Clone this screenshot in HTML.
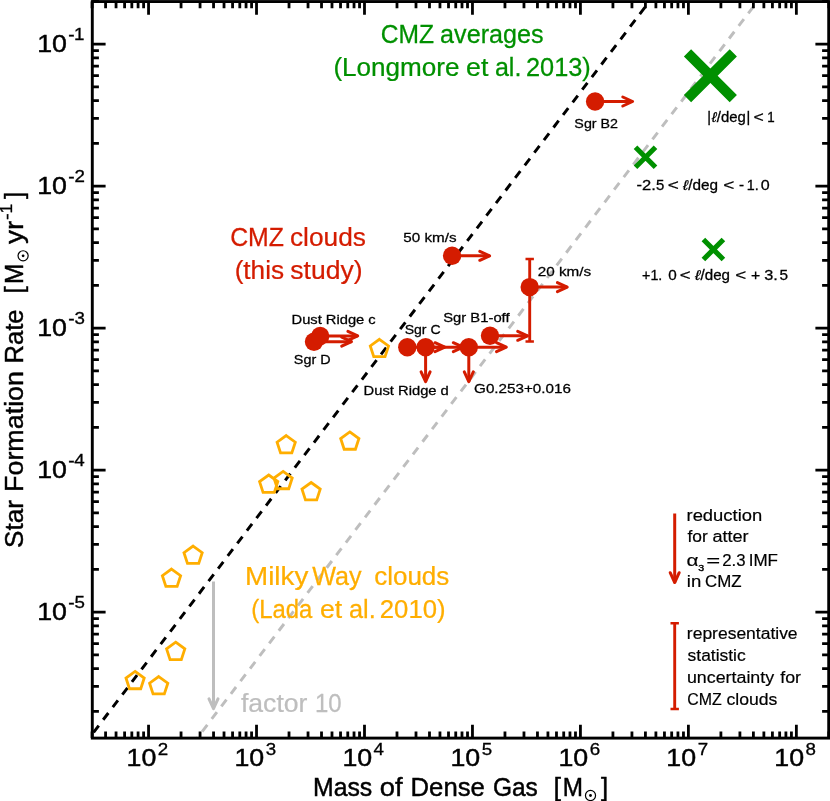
<!DOCTYPE html>
<html><head><meta charset="utf-8"><title>SFR vs dense gas</title>
<style>html,body{margin:0;padding:0;background:#fff}svg{display:block;will-change:transform}text{font-family:"Liberation Sans",sans-serif;white-space:pre}</style></head><body>
<svg width="830" height="801" viewBox="0 0 830 801">
<rect x="0" y="0" width="830" height="801" fill="#fff"/>
<defs><clipPath id="c"><rect x="92.3" y="1.55" width="736.4000000000001" height="736.5500000000001"/></clipPath></defs>
<g clip-path="url(#c)" fill="none" stroke-width="2.95">
<line x1="92.09" y1="734.34" x2="847.88" y2="-259.66" stroke="#000" stroke-dasharray="8.5 7.33" stroke-dashoffset="-2.5"/>
<line x1="92.09" y1="876.34" x2="847.88" y2="-117.66" stroke="#BEBEBE" stroke-dasharray="8.5 7.33" stroke-dashoffset="8.1"/>
</g>
<path d="M213.50,581.50L213.50,708.70" fill="none" stroke="#BEBEBE" stroke-width="3.0"/>
<path d="M209.00,698.90L213.50,708.70L218.00,698.90" fill="none" stroke="#BEBEBE" stroke-width="3.0" stroke-linecap="round" stroke-linejoin="round"/>
<polygon points="135.10,671.40 144.23,678.03 140.74,688.77 129.46,688.77 125.97,678.03" fill="none" stroke="#FFAE00" stroke-width="2.8" stroke-linejoin="miter"/>
<polygon points="158.70,676.60 167.83,683.23 164.34,693.97 153.06,693.97 149.57,683.23" fill="none" stroke="#FFAE00" stroke-width="2.8" stroke-linejoin="miter"/>
<polygon points="175.70,642.20 184.83,648.83 181.34,659.57 170.06,659.57 166.57,648.83" fill="none" stroke="#FFAE00" stroke-width="2.8" stroke-linejoin="miter"/>
<polygon points="171.50,569.10 180.63,575.73 177.14,586.47 165.86,586.47 162.37,575.73" fill="none" stroke="#FFAE00" stroke-width="2.8" stroke-linejoin="miter"/>
<polygon points="193.10,546.10 202.23,552.73 198.74,563.47 187.46,563.47 183.97,552.73" fill="none" stroke="#FFAE00" stroke-width="2.8" stroke-linejoin="miter"/>
<polygon points="268.70,475.00 277.83,481.63 274.34,492.37 263.06,492.37 259.57,481.63" fill="none" stroke="#FFAE00" stroke-width="2.8" stroke-linejoin="miter"/>
<polygon points="283.10,471.40 292.23,478.03 288.74,488.77 277.46,488.77 273.97,478.03" fill="none" stroke="#FFAE00" stroke-width="2.8" stroke-linejoin="miter"/>
<polygon points="311.10,482.50 320.23,489.13 316.74,499.87 305.46,499.87 301.97,489.13" fill="none" stroke="#FFAE00" stroke-width="2.8" stroke-linejoin="miter"/>
<polygon points="286.20,435.60 295.33,442.23 291.84,452.97 280.56,452.97 277.07,442.23" fill="none" stroke="#FFAE00" stroke-width="2.8" stroke-linejoin="miter"/>
<polygon points="349.80,431.90 358.93,438.53 355.44,449.27 344.16,449.27 340.67,438.53" fill="none" stroke="#FFAE00" stroke-width="2.8" stroke-linejoin="miter"/>
<polygon points="379.40,339.30 388.53,345.93 385.04,356.67 373.76,356.67 370.27,345.93" fill="none" stroke="#FFAE00" stroke-width="2.8" stroke-linejoin="miter"/>
<path d="M529.7,259.0L529.7,341.4" fill="none" stroke="#D41C00" stroke-width="2.9"/><path d="M525.5,259.0L533.9000000000001,259.0M525.5,341.4L533.9000000000001,341.4" fill="none" stroke="#D41C00" stroke-width="2.5"/>
<path d="M314.00,341.70L351.50,341.70" fill="none" stroke="#D41C00" stroke-width="3.0"/>
<path d="M341.70,346.20L351.50,341.70L341.70,337.20" fill="none" stroke="#D41C00" stroke-width="3.0" stroke-linecap="round" stroke-linejoin="round"/>
<path d="M320.20,335.90L357.70,335.90" fill="none" stroke="#D41C00" stroke-width="3.0"/>
<path d="M347.90,340.40L357.70,335.90L347.90,331.40" fill="none" stroke="#D41C00" stroke-width="3.0" stroke-linecap="round" stroke-linejoin="round"/>
<path d="M452.10,255.80L489.60,255.80" fill="none" stroke="#D41C00" stroke-width="3.0"/>
<path d="M479.80,260.30L489.60,255.80L479.80,251.30" fill="none" stroke="#D41C00" stroke-width="3.0" stroke-linecap="round" stroke-linejoin="round"/>
<path d="M529.70,287.10L567.20,287.10" fill="none" stroke="#D41C00" stroke-width="3.0"/>
<path d="M557.40,291.60L567.20,287.10L557.40,282.60" fill="none" stroke="#D41C00" stroke-width="3.0" stroke-linecap="round" stroke-linejoin="round"/>
<path d="M407.30,347.20L444.80,347.20" fill="none" stroke="#D41C00" stroke-width="3.0"/>
<path d="M435.00,351.70L444.80,347.20L435.00,342.70" fill="none" stroke="#D41C00" stroke-width="3.0" stroke-linecap="round" stroke-linejoin="round"/>
<path d="M425.60,347.20L463.10,347.20" fill="none" stroke="#D41C00" stroke-width="3.0"/>
<path d="M453.30,351.70L463.10,347.20L453.30,342.70" fill="none" stroke="#D41C00" stroke-width="3.0" stroke-linecap="round" stroke-linejoin="round"/>
<path d="M468.80,347.20L506.30,347.20" fill="none" stroke="#D41C00" stroke-width="3.0"/>
<path d="M496.50,351.70L506.30,347.20L496.50,342.70" fill="none" stroke="#D41C00" stroke-width="3.0" stroke-linecap="round" stroke-linejoin="round"/>
<path d="M490.00,335.80L527.50,335.80" fill="none" stroke="#D41C00" stroke-width="3.0"/>
<path d="M517.70,340.30L527.50,335.80L517.70,331.30" fill="none" stroke="#D41C00" stroke-width="3.0" stroke-linecap="round" stroke-linejoin="round"/>
<path d="M595.10,101.50L632.60,101.50" fill="none" stroke="#D41C00" stroke-width="3.0"/>
<path d="M622.80,106.00L632.60,101.50L622.80,97.00" fill="none" stroke="#D41C00" stroke-width="3.0" stroke-linecap="round" stroke-linejoin="round"/>
<path d="M425.60,347.20L425.60,381.70" fill="none" stroke="#D41C00" stroke-width="3.0"/>
<path d="M421.10,371.90L425.60,381.70L430.10,371.90" fill="none" stroke="#D41C00" stroke-width="3.0" stroke-linecap="round" stroke-linejoin="round"/>
<path d="M468.80,347.20L468.80,381.70" fill="none" stroke="#D41C00" stroke-width="3.0"/>
<path d="M464.30,371.90L468.80,381.70L473.30,371.90" fill="none" stroke="#D41C00" stroke-width="3.0" stroke-linecap="round" stroke-linejoin="round"/>
<circle cx="314.0" cy="341.7" r="9.2" fill="#D41C00"/>
<circle cx="320.2" cy="335.9" r="9.2" fill="#D41C00"/>
<circle cx="452.1" cy="255.8" r="9.2" fill="#D41C00"/>
<circle cx="529.7" cy="287.1" r="9.2" fill="#D41C00"/>
<circle cx="407.3" cy="347.2" r="9.2" fill="#D41C00"/>
<circle cx="425.6" cy="347.2" r="9.2" fill="#D41C00"/>
<circle cx="468.8" cy="347.2" r="9.2" fill="#D41C00"/>
<circle cx="490.0" cy="335.8" r="9.2" fill="#D41C00"/>
<circle cx="595.1" cy="101.5" r="9.2" fill="#D41C00"/>
<path d="M687.5,52.800000000000004L733.3,98.6M687.5,98.6L733.3,52.800000000000004" stroke="#009000" stroke-width="10.2" fill="none"/>
<path d="M635.5,147.3L655.5,167.3M635.5,167.3L655.5,147.3" stroke="#009000" stroke-width="5.1" fill="none"/>
<path d="M703.4,239.5L723.4,259.5M703.4,259.5L723.4,239.5" stroke="#009000" stroke-width="5.1" fill="none"/>
<path d="M674.70,513.50L674.70,582.50" fill="none" stroke="#D41C00" stroke-width="3.0"/>
<path d="M670.20,572.70L674.70,582.50L679.20,572.70" fill="none" stroke="#D41C00" stroke-width="3.0" stroke-linecap="round" stroke-linejoin="round"/>
<path d="M674.7,623.3L674.7,708.9" fill="none" stroke="#D41C00" stroke-width="2.9"/><path d="M670.5,623.3L678.9000000000001,623.3M670.5,708.9L678.9000000000001,708.9" fill="none" stroke="#D41C00" stroke-width="2.5"/>
<g stroke="#000" stroke-width="2.8" fill="none">
<path d="M92.09,738.1v-6.6M92.09,1.55v6.6M105.58,738.1v-6.6M105.58,1.55v6.6M116.05,738.1v-6.6M116.05,1.55v6.6M124.60,738.1v-6.6M124.60,1.55v6.6M131.83,738.1v-6.6M131.83,1.55v6.6M138.09,738.1v-6.6M138.09,1.55v6.6M143.61,738.1v-6.6M143.61,1.55v6.6M148.55,738.1v-13.3M148.55,1.55v13.3M181.05,738.1v-6.6M181.05,1.55v6.6M200.06,738.1v-6.6M200.06,1.55v6.6M213.55,738.1v-6.6M213.55,1.55v6.6M224.02,738.1v-6.6M224.02,1.55v6.6M232.57,738.1v-6.6M232.57,1.55v6.6M239.80,738.1v-6.6M239.80,1.55v6.6M246.06,738.1v-6.6M246.06,1.55v6.6M251.58,738.1v-6.6M251.58,1.55v6.6M256.52,738.1v-13.3M256.52,1.55v13.3M289.02,738.1v-6.6M289.02,1.55v6.6M308.03,738.1v-6.6M308.03,1.55v6.6M321.52,738.1v-6.6M321.52,1.55v6.6M331.99,738.1v-6.6M331.99,1.55v6.6M340.54,738.1v-6.6M340.54,1.55v6.6M347.77,738.1v-6.6M347.77,1.55v6.6M354.03,738.1v-6.6M354.03,1.55v6.6M359.55,738.1v-6.6M359.55,1.55v6.6M364.49,738.1v-13.3M364.49,1.55v13.3M396.99,738.1v-6.6M396.99,1.55v6.6M416.00,738.1v-6.6M416.00,1.55v6.6M429.49,738.1v-6.6M429.49,1.55v6.6M439.96,738.1v-6.6M439.96,1.55v6.6M448.51,738.1v-6.6M448.51,1.55v6.6M455.74,738.1v-6.6M455.74,1.55v6.6M462.00,738.1v-6.6M462.00,1.55v6.6M467.52,738.1v-6.6M467.52,1.55v6.6M472.46,738.1v-13.3M472.46,1.55v13.3M504.96,738.1v-6.6M504.96,1.55v6.6M523.97,738.1v-6.6M523.97,1.55v6.6M537.46,738.1v-6.6M537.46,1.55v6.6M547.93,738.1v-6.6M547.93,1.55v6.6M556.48,738.1v-6.6M556.48,1.55v6.6M563.71,738.1v-6.6M563.71,1.55v6.6M569.97,738.1v-6.6M569.97,1.55v6.6M575.49,738.1v-6.6M575.49,1.55v6.6M580.43,738.1v-13.3M580.43,1.55v13.3M612.93,738.1v-6.6M612.93,1.55v6.6M631.94,738.1v-6.6M631.94,1.55v6.6M645.43,738.1v-6.6M645.43,1.55v6.6M655.90,738.1v-6.6M655.90,1.55v6.6M664.45,738.1v-6.6M664.45,1.55v6.6M671.68,738.1v-6.6M671.68,1.55v6.6M677.94,738.1v-6.6M677.94,1.55v6.6M683.46,738.1v-6.6M683.46,1.55v6.6M688.40,738.1v-13.3M688.40,1.55v13.3M720.90,738.1v-6.6M720.90,1.55v6.6M739.91,738.1v-6.6M739.91,1.55v6.6M753.40,738.1v-6.6M753.40,1.55v6.6M763.87,738.1v-6.6M763.87,1.55v6.6M772.42,738.1v-6.6M772.42,1.55v6.6M779.65,738.1v-6.6M779.65,1.55v6.6M785.91,738.1v-6.6M785.91,1.55v6.6M791.43,738.1v-6.6M791.43,1.55v6.6M796.37,738.1v-13.3M796.37,1.55v13.3M828.87,738.1v-6.6M828.87,1.55v6.6M92.3,711.45h6.6M828.7,711.45h-6.6M92.3,686.45h6.6M828.7,686.45h-6.6M92.3,668.71h6.6M828.7,668.71h-6.6M92.3,654.95h6.6M828.7,654.95h-6.6M92.3,643.70h6.6M828.7,643.70h-6.6M92.3,634.20h6.6M828.7,634.20h-6.6M92.3,625.96h6.6M828.7,625.96h-6.6M92.3,618.70h6.6M828.7,618.70h-6.6M92.3,612.20h13.3M828.7,612.20h-13.3M92.3,569.45h6.6M828.7,569.45h-6.6M92.3,544.45h6.6M828.7,544.45h-6.6M92.3,526.71h6.6M828.7,526.71h-6.6M92.3,512.95h6.6M828.7,512.95h-6.6M92.3,501.70h6.6M828.7,501.70h-6.6M92.3,492.20h6.6M828.7,492.20h-6.6M92.3,483.96h6.6M828.7,483.96h-6.6M92.3,476.70h6.6M828.7,476.70h-6.6M92.3,470.20h13.3M828.7,470.20h-13.3M92.3,427.45h6.6M828.7,427.45h-6.6M92.3,402.45h6.6M828.7,402.45h-6.6M92.3,384.71h6.6M828.7,384.71h-6.6M92.3,370.95h6.6M828.7,370.95h-6.6M92.3,359.70h6.6M828.7,359.70h-6.6M92.3,350.20h6.6M828.7,350.20h-6.6M92.3,341.96h6.6M828.7,341.96h-6.6M92.3,334.70h6.6M828.7,334.70h-6.6M92.3,328.20h13.3M828.7,328.20h-13.3M92.3,285.45h6.6M828.7,285.45h-6.6M92.3,260.45h6.6M828.7,260.45h-6.6M92.3,242.71h6.6M828.7,242.71h-6.6M92.3,228.95h6.6M828.7,228.95h-6.6M92.3,217.70h6.6M828.7,217.70h-6.6M92.3,208.20h6.6M828.7,208.20h-6.6M92.3,199.96h6.6M828.7,199.96h-6.6M92.3,192.70h6.6M828.7,192.70h-6.6M92.3,186.20h13.3M828.7,186.20h-13.3M92.3,143.45h6.6M828.7,143.45h-6.6M92.3,118.45h6.6M828.7,118.45h-6.6M92.3,100.71h6.6M828.7,100.71h-6.6M92.3,86.95h6.6M828.7,86.95h-6.6M92.3,75.70h6.6M828.7,75.70h-6.6M92.3,66.20h6.6M828.7,66.20h-6.6M92.3,57.96h6.6M828.7,57.96h-6.6M92.3,50.70h6.6M828.7,50.70h-6.6M92.3,44.20h13.3M828.7,44.20h-13.3M92.3,1.45h6.6M828.7,1.45h-6.6"/>
</g>
<rect x="92.3" y="1.55" width="736.4000000000001" height="736.5500000000001" fill="none" stroke="#000" stroke-width="2.9"/>
<text transform="translate(128.50,765.80) scale(1.0971,1)" x="-1.83" y="0" font-size="24.4" fill="#000" stroke="#000" stroke-width="0.456">10</text>
<text transform="translate(158.77,754.60) scale(1.1300,1)" x="-0.83" y="0" font-size="16.6" fill="#000" stroke="#000" stroke-width="0.310">2</text>
<text transform="translate(236.47,765.80) scale(1.0971,1)" x="-1.83" y="0" font-size="24.4" fill="#000" stroke="#000" stroke-width="0.456">10</text>
<text transform="translate(266.37,754.60) scale(1.1300,1)" x="-0.58" y="0" font-size="16.6" fill="#000" stroke="#000" stroke-width="0.310">3</text>
<text transform="translate(344.44,765.80) scale(1.0971,1)" x="-1.83" y="0" font-size="24.4" fill="#000" stroke="#000" stroke-width="0.456">10</text>
<text transform="translate(373.77,754.60) scale(1.1300,1)" x="-0.33" y="0" font-size="16.6" fill="#000" stroke="#000" stroke-width="0.310">4</text>
<text transform="translate(452.41,765.80) scale(1.0971,1)" x="-1.83" y="0" font-size="24.4" fill="#000" stroke="#000" stroke-width="0.456">10</text>
<text transform="translate(482.40,754.60) scale(1.1300,1)" x="-0.66" y="0" font-size="16.6" fill="#000" stroke="#000" stroke-width="0.310">5</text>
<text transform="translate(560.38,765.80) scale(1.0971,1)" x="-1.83" y="0" font-size="24.4" fill="#000" stroke="#000" stroke-width="0.456">10</text>
<text transform="translate(590.56,754.60) scale(1.1300,1)" x="-0.83" y="0" font-size="16.6" fill="#000" stroke="#000" stroke-width="0.310">6</text>
<text transform="translate(668.35,765.80) scale(1.0971,1)" x="-1.83" y="0" font-size="24.4" fill="#000" stroke="#000" stroke-width="0.456">10</text>
<text transform="translate(698.62,754.60) scale(1.1300,1)" x="-0.83" y="0" font-size="16.6" fill="#000" stroke="#000" stroke-width="0.310">7</text>
<text transform="translate(776.32,765.80) scale(1.0971,1)" x="-1.83" y="0" font-size="24.4" fill="#000" stroke="#000" stroke-width="0.456">10</text>
<text transform="translate(806.31,754.60) scale(1.1300,1)" x="-0.66" y="0" font-size="16.6" fill="#000" stroke="#000" stroke-width="0.310">8</text>
<text transform="translate(39.20,619.50) scale(1.0971,1)" x="-1.83" y="0" font-size="24.4" fill="#000" stroke="#000" stroke-width="0.456">10</text>
<text transform="translate(68.90,607.90) scale(1.1566,1)" x="-0.66" y="0" font-size="16.6" fill="#000" stroke="#000" stroke-width="0.303">-</text>
<text transform="translate(75.19,607.90) scale(1.1300,1)" x="-0.66" y="0" font-size="16.6" fill="#000" stroke="#000" stroke-width="0.310">5</text>
<text transform="translate(39.20,477.50) scale(1.0971,1)" x="-1.83" y="0" font-size="24.4" fill="#000" stroke="#000" stroke-width="0.456">10</text>
<text transform="translate(68.90,465.90) scale(1.1566,1)" x="-0.66" y="0" font-size="16.6" fill="#000" stroke="#000" stroke-width="0.303">-</text>
<text transform="translate(74.53,465.90) scale(1.1300,1)" x="-0.33" y="0" font-size="16.6" fill="#000" stroke="#000" stroke-width="0.310">4</text>
<text transform="translate(39.20,335.50) scale(1.0971,1)" x="-1.83" y="0" font-size="24.4" fill="#000" stroke="#000" stroke-width="0.456">10</text>
<text transform="translate(68.90,323.90) scale(1.1566,1)" x="-0.66" y="0" font-size="16.6" fill="#000" stroke="#000" stroke-width="0.303">-</text>
<text transform="translate(75.10,323.90) scale(1.1300,1)" x="-0.58" y="0" font-size="16.6" fill="#000" stroke="#000" stroke-width="0.310">3</text>
<text transform="translate(39.20,193.50) scale(1.0971,1)" x="-1.83" y="0" font-size="24.4" fill="#000" stroke="#000" stroke-width="0.456">10</text>
<text transform="translate(68.90,181.90) scale(1.1566,1)" x="-0.66" y="0" font-size="16.6" fill="#000" stroke="#000" stroke-width="0.303">-</text>
<text transform="translate(75.47,181.90) scale(1.1300,1)" x="-0.83" y="0" font-size="16.6" fill="#000" stroke="#000" stroke-width="0.310">2</text>
<text transform="translate(39.20,51.50) scale(1.0971,1)" x="-1.83" y="0" font-size="24.4" fill="#000" stroke="#000" stroke-width="0.456">10</text>
<text transform="translate(68.90,39.90) scale(1.1566,1)" x="-0.66" y="0" font-size="16.6" fill="#000" stroke="#000" stroke-width="0.303">-</text>
<text transform="translate(75.44,39.90) scale(1.1300,1)" x="-1.25" y="0" font-size="16.6" fill="#000" stroke="#000" stroke-width="0.310">1</text>
<text transform="translate(292.70,323.60) scale(1.0982,1)" x="-1.07" y="0" font-size="13.4" fill="#000" stroke="#000" stroke-width="0.273">Dust Ridge c</text>
<text transform="translate(294.50,363.60) scale(1.0722,1)" x="-0.60" y="0" font-size="13.4" fill="#000" stroke="#000" stroke-width="0.280">Sgr D</text>
<text transform="translate(403.90,241.70) scale(1.1371,1)" x="-0.54" y="0" font-size="13.4" fill="#000" stroke="#000" stroke-width="0.264">50 km/s</text>
<text transform="translate(538.50,276.20) scale(1.1404,1)" x="-0.67" y="0" font-size="13.4" fill="#000" stroke="#000" stroke-width="0.263">20 km/s</text>
<text transform="translate(443.90,322.40) scale(1.1040,1)" x="-0.60" y="0" font-size="13.4" fill="#000" stroke="#000" stroke-width="0.272">Sgr B1-off</text>
<text transform="translate(405.30,333.60) scale(1.0497,1)" x="-0.60" y="0" font-size="13.4" fill="#000" stroke="#000" stroke-width="0.286">Sgr C</text>
<text transform="translate(364.80,395.20) scale(1.1010,1)" x="-1.07" y="0" font-size="13.4" fill="#000" stroke="#000" stroke-width="0.272">Dust Ridge d</text>
<text transform="translate(474.80,392.70) scale(1.1357,1)" x="-0.67" y="0" font-size="13.4" fill="#000" stroke="#000" stroke-width="0.264">G0.253+0.016</text>
<text transform="translate(575.00,128.10) scale(1.0668,1)" x="-0.60" y="0" font-size="13.4" fill="#000" stroke="#000" stroke-width="0.281">Sgr B2</text>
<text transform="translate(708.50,122.30) scale(1.0317,1)" x="-1.19" y="0" font-size="14.0" fill="#000" stroke="#000" stroke-width="0.291">|</text>
<text transform="translate(711.70,122.30) scale(1.0599,1)" x="-0.07" y="0" font-size="14.0" fill="#000" stroke="#000" stroke-width="0.283" font-style="italic">ℓ</text>
<text transform="translate(716.80,122.30) scale(1.0685,1)" x="0.00" y="0" font-size="14.0" fill="#000" stroke="#000" stroke-width="0.281">/deg</text>
<text transform="translate(747.70,122.30) scale(1.0317,1)" x="-1.19" y="0" font-size="14.0" fill="#000" stroke="#000" stroke-width="0.291">|</text>
<text transform="translate(754.20,122.30) scale(1.2554,1)" x="-0.63" y="0" font-size="14.0" fill="#000" stroke="#000" stroke-width="0.239">&lt;</text>
<text transform="translate(768.30,122.30) scale(0.9524,1)" x="-1.05" y="0" font-size="14.0" fill="#000" stroke="#000" stroke-width="0.315">1</text>
<text transform="translate(637.20,189.60) scale(1.1823,1)" x="-0.56" y="0" font-size="14.0" fill="#000" stroke="#000" stroke-width="0.254">-2.</text>
<text transform="translate(656.70,189.60) scale(1.0677,1)" x="-0.56" y="0" font-size="14.0" fill="#000" stroke="#000" stroke-width="0.281">5</text>
<text transform="translate(668.50,189.60) scale(1.3564,1)" x="-0.63" y="0" font-size="14.0" fill="#000" stroke="#000" stroke-width="0.221">&lt;</text>
<text transform="translate(683.00,189.60) scale(1.1060,1)" x="-0.07" y="0" font-size="14.0" fill="#000" stroke="#000" stroke-width="0.271" font-style="italic">ℓ</text>
<text transform="translate(688.20,189.60) scale(1.0950,1)" x="0.00" y="0" font-size="14.0" fill="#000" stroke="#000" stroke-width="0.274">/deg</text>
<text transform="translate(724.00,189.60) scale(1.3564,1)" x="-0.63" y="0" font-size="14.0" fill="#000" stroke="#000" stroke-width="0.221">&lt;</text>
<text transform="translate(739.70,189.60) scale(1.0857,1)" x="-0.56" y="0" font-size="14.0" fill="#000" stroke="#000" stroke-width="0.276">-</text>
<text transform="translate(747.80,189.60) scale(1.0217,1)" x="-1.05" y="0" font-size="14.0" fill="#000" stroke="#000" stroke-width="0.294">1.</text>
<text transform="translate(761.40,189.60) scale(1.1487,1)" x="-0.49" y="0" font-size="14.0" fill="#000" stroke="#000" stroke-width="0.261">0</text>
<text transform="translate(642.70,279.70) scale(1.0171,1)" x="-0.63" y="0" font-size="14.0" fill="#000" stroke="#000" stroke-width="0.295">+1.</text>
<text transform="translate(668.70,279.70) scale(1.0898,1)" x="-0.49" y="0" font-size="14.0" fill="#000" stroke="#000" stroke-width="0.275">0</text>
<text transform="translate(680.70,279.70) scale(1.3276,1)" x="-0.63" y="0" font-size="14.0" fill="#000" stroke="#000" stroke-width="0.226">&lt;</text>
<text transform="translate(695.10,279.70) scale(1.1751,1)" x="-0.07" y="0" font-size="14.0" fill="#000" stroke="#000" stroke-width="0.255" font-style="italic">ℓ</text>
<text transform="translate(700.50,279.70) scale(1.0837,1)" x="0.00" y="0" font-size="14.0" fill="#000" stroke="#000" stroke-width="0.277">/deg</text>
<text transform="translate(736.20,279.70) scale(1.3420,1)" x="-0.63" y="0" font-size="14.0" fill="#000" stroke="#000" stroke-width="0.224">&lt;</text>
<text transform="translate(751.60,279.70) scale(1.1224,1)" x="-0.63" y="0" font-size="14.0" fill="#000" stroke="#000" stroke-width="0.267">+</text>
<text transform="translate(764.70,279.70) scale(1.1651,1)" x="-0.49" y="0" font-size="14.0" fill="#000" stroke="#000" stroke-width="0.257">3.</text>
<text transform="translate(780.00,279.70) scale(1.0977,1)" x="-0.56" y="0" font-size="14.0" fill="#000" stroke="#000" stroke-width="0.273">5</text>
<text transform="translate(381.90,42.80) scale(0.9629,1)" x="-1.28" y="0" font-size="25.6" fill="#009000" stroke="#009000" stroke-width="0.260">CMZ</text>
<text transform="translate(441.10,42.80) scale(0.9827,1)" x="-1.02" y="0" font-size="25.6" fill="#009000" stroke="#009000" stroke-width="0.254">averages</text>
<text transform="translate(335.00,75.70) scale(1.0189,1)" x="-1.54" y="0" font-size="25.6" fill="#009000" stroke="#009000" stroke-width="0.245">(Longmore</text>
<text transform="translate(467.10,75.70) scale(1.0467,1)" x="-1.02" y="0" font-size="25.6" fill="#009000" stroke="#009000" stroke-width="0.239">et</text>
<text transform="translate(495.90,75.70) scale(0.9804,1)" x="-1.02" y="0" font-size="25.6" fill="#009000" stroke="#009000" stroke-width="0.255">al.</text>
<text transform="translate(527.20,75.70) scale(0.9903,1)" x="-1.28" y="0" font-size="25.6" fill="#009000" stroke="#009000" stroke-width="0.252">2013)</text>
<text transform="translate(231.40,245.70) scale(0.9704,1)" x="-1.28" y="0" font-size="25.6" fill="#D41C00" stroke="#D41C00" stroke-width="0.258">CMZ</text>
<text transform="translate(291.00,245.70) scale(1.0266,1)" x="-1.02" y="0" font-size="25.6" fill="#D41C00" stroke="#D41C00" stroke-width="0.244">clouds</text>
<text transform="translate(236.20,278.70) scale(1.0233,1)" x="-1.54" y="0" font-size="25.6" fill="#D41C00" stroke="#D41C00" stroke-width="0.244">(this</text>
<text transform="translate(291.00,278.70) scale(1.0357,1)" x="-0.64" y="0" font-size="25.6" fill="#D41C00" stroke="#D41C00" stroke-width="0.241">study)</text>
<text transform="translate(247.30,584.60) scale(1.0844,1)" x="-2.05" y="0" font-size="25.6" fill="#FFAE00" stroke="#FFAE00" stroke-width="0.231">Milky</text>
<text transform="translate(312.20,584.60) scale(0.9831,1)" x="0.00" y="0" font-size="25.6" fill="#FFAE00" stroke="#FFAE00" stroke-width="0.254">Way</text>
<text transform="translate(375.20,584.60) scale(1.0155,1)" x="-1.02" y="0" font-size="25.6" fill="#FFAE00" stroke="#FFAE00" stroke-width="0.246">clouds</text>
<text transform="translate(252.80,617.90) scale(0.9323,1)" x="-1.54" y="0" font-size="25.6" fill="#FFAE00" stroke="#FFAE00" stroke-width="0.268">(Lada</text>
<text transform="translate(321.00,617.90) scale(1.0418,1)" x="-1.02" y="0" font-size="25.6" fill="#FFAE00" stroke="#FFAE00" stroke-width="0.240">et</text>
<text transform="translate(350.00,617.90) scale(0.9888,1)" x="-1.02" y="0" font-size="25.6" fill="#FFAE00" stroke="#FFAE00" stroke-width="0.253">al.</text>
<text transform="translate(381.10,617.90) scale(1.0046,1)" x="-1.28" y="0" font-size="25.6" fill="#FFAE00" stroke="#FFAE00" stroke-width="0.249">2010)</text>
<text transform="translate(241.20,711.70) scale(1.0388,1)" x="-0.26" y="0" font-size="25.6" fill="#BEBEBE" stroke="#BEBEBE" stroke-width="0.241">factor</text>
<text transform="translate(316.80,711.70) scale(0.9364,1)" x="-1.92" y="0" font-size="25.6" fill="#BEBEBE" stroke="#BEBEBE" stroke-width="0.267">10</text>
<text transform="translate(687.70,520.50) scale(1.0640,1)" x="-1.12" y="0" font-size="17.3" fill="#000" stroke="#000" stroke-width="0.188">reduction</text>
<text transform="translate(687.70,542.40) scale(1.0055,1)" x="-0.17" y="0" font-size="17.3" fill="#000" stroke="#000" stroke-width="0.199">for</text>
<text transform="translate(713.10,542.40) scale(1.0475,1)" x="-0.69" y="0" font-size="17.3" fill="#000" stroke="#000" stroke-width="0.191">atter</text>
<text transform="translate(688.00,587.30) scale(1.0725,1)" x="-1.12" y="0" font-size="17.3" fill="#000" stroke="#000" stroke-width="0.186">in</text>
<text transform="translate(705.80,587.30) scale(0.9758,1)" x="-0.87" y="0" font-size="17.3" fill="#000" stroke="#000" stroke-width="0.205">CMZ</text>
<text transform="translate(688.00,639.10) scale(1.0112,1)" x="-1.12" y="0" font-size="17.3" fill="#000" stroke="#000" stroke-width="0.198">representative</text>
<text transform="translate(688.00,661.20) scale(1.0086,1)" x="-0.43" y="0" font-size="17.3" fill="#000" stroke="#000" stroke-width="0.198">statistic</text>
<text transform="translate(688.00,683.40) scale(1.0313,1)" x="-1.04" y="0" font-size="17.3" fill="#000" stroke="#000" stroke-width="0.194">uncertainty</text>
<text transform="translate(780.40,683.40) scale(1.0308,1)" x="-0.17" y="0" font-size="17.3" fill="#000" stroke="#000" stroke-width="0.194">for</text>
<text transform="translate(688.00,705.30) scale(0.9203,1)" x="-0.87" y="0" font-size="17.3" fill="#000" stroke="#000" stroke-width="0.217">CMZ</text>
<text transform="translate(727.20,705.30) scale(1.0183,1)" x="-0.69" y="0" font-size="17.3" fill="#000" stroke="#000" stroke-width="0.196">clouds</text>
<text transform="translate(687.30,565.50) scale(1.2014,1)" x="-0.69" y="0" font-size="17.3" fill="#000" stroke="#000" stroke-width="0.166">α</text>
<text transform="translate(698.70,571.20) scale(1.1425,1)" x="-0.33" y="0" font-size="9.3" fill="#000" stroke="#000" stroke-width="0.394">3</text>
<text transform="translate(707.40,565.50) scale(1.3802,1)" x="-0.78" y="0" font-size="17.3" fill="#000" stroke="#000" stroke-width="0.145">=</text>
<text transform="translate(723.10,565.50) scale(0.9701,1)" x="-0.87" y="0" font-size="17.3" fill="#000" stroke="#000" stroke-width="0.206">2.3</text>
<text transform="translate(750.20,565.50) scale(0.9852,1)" x="-1.56" y="0" font-size="17.3" fill="#000" stroke="#000" stroke-width="0.203">IMF</text>
<text transform="translate(315.00,795.70) scale(0.9920,1)" x="-2.00" y="0" font-size="25.0" fill="#000" stroke="#000" stroke-width="0.454">Mass</text>
<text transform="translate(380.80,795.70) scale(1.0953,1)" x="-1.00" y="0" font-size="25.0" fill="#000" stroke="#000" stroke-width="0.411">of</text>
<text transform="translate(412.60,795.70) scale(1.0284,1)" x="-2.00" y="0" font-size="25.0" fill="#000" stroke="#000" stroke-width="0.438">Dense</text>
<text transform="translate(494.20,795.70) scale(0.9789,1)" x="-1.25" y="0" font-size="25.0" fill="#000" stroke="#000" stroke-width="0.460">Gas</text>
<text transform="translate(555.40,795.70) scale(1.0800,1)" x="-1.75" y="0" font-size="25.0" fill="#000" stroke="#000" stroke-width="0.417">[</text>
<text transform="translate(564.80,795.70) scale(0.9719,1)" x="-2.00" y="0" font-size="25.0" fill="#000" stroke="#000" stroke-width="0.463">M</text>
<circle cx="590.5" cy="795.5" r="5.05" fill="none" stroke="#000" stroke-width="1.2"/><circle cx="590.5" cy="795.5" r="1.4" fill="#000"/>
<text transform="translate(601.00,795.70) scale(1.0341,1)" x="-0.12" y="0" font-size="25.0" fill="#000" stroke="#000" stroke-width="0.435">]</text>
<text transform="translate(23.10,546.80) rotate(-90) scale(1.0428,1)" x="-1.12" y="0" font-size="25.0" fill="#000" stroke="#000" stroke-width="0.432">Star</text>
<text transform="translate(23.10,489.80) rotate(-90) scale(1.0752,1)" x="-2.00" y="0" font-size="25.0" fill="#000" stroke="#000" stroke-width="0.419">Formation</text>
<text transform="translate(23.10,361.40) rotate(-90) scale(1.0205,1)" x="-2.00" y="0" font-size="25.0" fill="#000" stroke="#000" stroke-width="0.441">Rate</text>
<text transform="translate(23.10,292.00) rotate(-90) scale(1.0600,1)" x="-1.75" y="0" font-size="25.0" fill="#000" stroke="#000" stroke-width="0.425">[</text>
<text transform="translate(23.10,282.00) rotate(-90) scale(0.9719,1)" x="-2.00" y="0" font-size="25.0" fill="#000" stroke="#000" stroke-width="0.463">M</text>
<circle cx="23.1" cy="255.8" r="5.05" fill="none" stroke="#000" stroke-width="1.2"/><circle cx="23.1" cy="255.8" r="1.4" fill="#000"/>
<text transform="translate(23.10,244.10) rotate(-90) scale(1.1220,1)" x="0.00" y="0" font-size="25.0" fill="#000" stroke="#000" stroke-width="0.401">yr</text>
<text transform="translate(12.00,219.10) rotate(-90) scale(1.2289,1)" x="-0.66" y="0" font-size="16.6" fill="#000" stroke="#000" stroke-width="0.285">-</text>
<text transform="translate(12.00,212.10) rotate(-90) scale(1.0386,1)" x="-1.25" y="0" font-size="16.6" fill="#000" stroke="#000" stroke-width="0.337">1</text>
<text transform="translate(23.10,199.00) rotate(-90) scale(1.0341,1)" x="-0.12" y="0" font-size="25.0" fill="#000" stroke="#000" stroke-width="0.435">]</text>
</svg></body></html>
